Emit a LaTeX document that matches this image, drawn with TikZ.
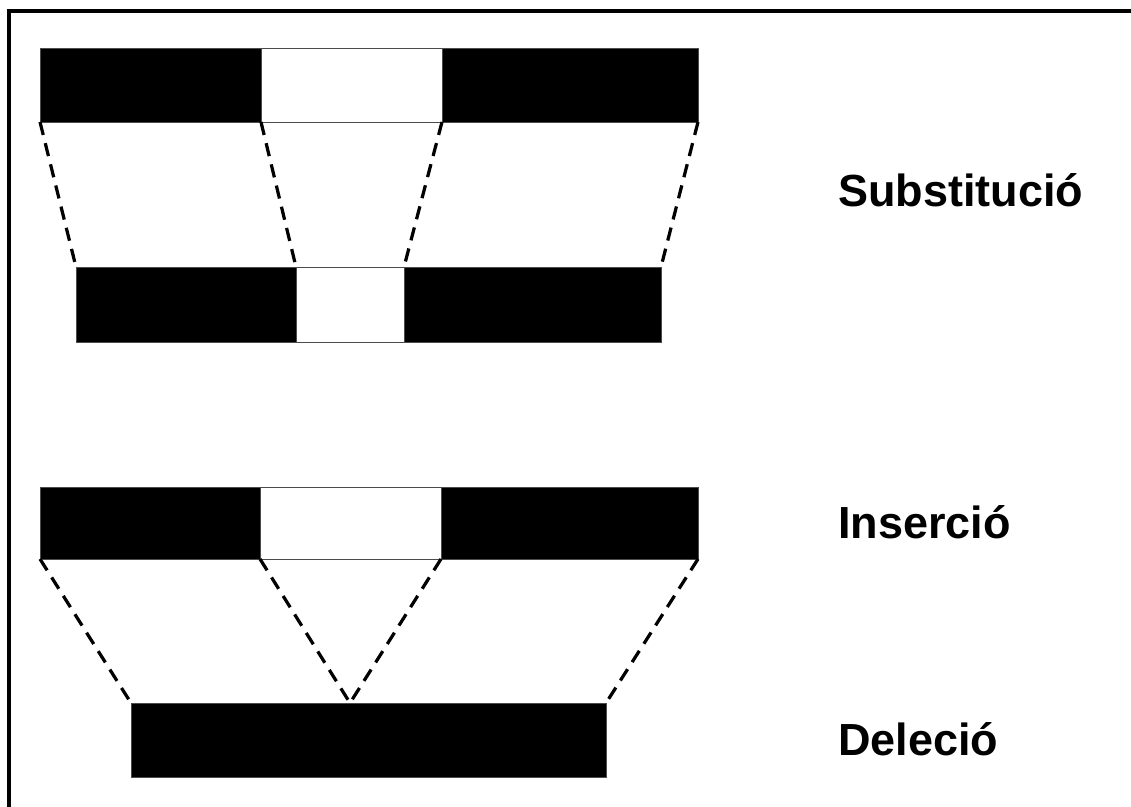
\documentclass[tikz,border=0pt]{standalone}
\usepackage{fontspec}
\setmainfont{Liberation Sans}
\usetikzlibrary{calc}

\tikzset{
	seg/.style={fill=black, draw=black!70, line width=0.6pt},
	gap/.style={fill=white, draw=black!70, line width=0.6pt},
	link/.style={line width=2.3pt, dash pattern=on 9.5pt off 6pt},
	mutlabel/.style={anchor=base west, inner sep=0pt, font=\fontsize{32}{38}\selectfont\bfseries}
}

\begin{document}
\begin{tikzpicture}[x=0.025cm, y=-0.025cm]
			\useasboundingbox (0, 0) rectangle (1131, 807);
			\fill[white] (0, 0) rectangle (1131, 807);
			
			% frame
			\draw[line width=2.2pt] (9, 807) -- (9, 11) -- (1131, 11);
			
			% substitution: upper strand
			\coordinate (sAl) at (40, 122);
			\coordinate (sAa) at (261, 122);
			\coordinate (sAb) at (442, 122);
			\coordinate (sAr) at (698, 122);
			\draw[seg] (40, 48) rectangle (sAr);
			\draw[gap] (261, 48) rectangle (sAb);
			
			% substitution: lower strand
			\coordinate (sBl) at (76, 267);
			\coordinate (sBa) at (296, 267);
			\coordinate (sBb) at (404, 267);
			\coordinate (sBr) at (661, 267);
			\draw[seg] (sBl) rectangle (661, 342);
			\draw[gap] (sBa) rectangle (404, 342);
			
			\draw[link] (sAl) -- (sBl);
			\draw[link] (sAa) -- (sBa);
			\draw[link] (sAb) -- (sBb);
			\draw[link] (sAr) -- (sBr);
			
			% insertion / deletion
			\coordinate (iAl) at (40, 559);
			\coordinate (iAa) at (260, 559);
			\coordinate (iAb) at (441, 559);
			\coordinate (iAr) at (698, 559);
			\draw[seg] (40, 487) rectangle (iAr);
			\draw[gap] (260, 487) rectangle (iAb);
			
			\coordinate (dBl) at (131, 703);
			\coordinate (dBm) at (350, 703);
			\coordinate (dBr) at (606, 703);
			\draw[seg] (dBl) rectangle (606, 777);
			
			\draw[link] (iAl) -- (dBl);
			\draw[link] (iAa) -- (dBm);
			\draw[link] (iAb) -- (dBm);
			\draw[link] (iAr) -- (dBr);
			
			\node[mutlabel] (subst) at (838, 207) {Substitució};
			\node[mutlabel] (ins) at (838, 538) {Inserció};
			\node[mutlabel] (del) at (838, 755) {Deleció};
		\end{tikzpicture}
\end{document}
